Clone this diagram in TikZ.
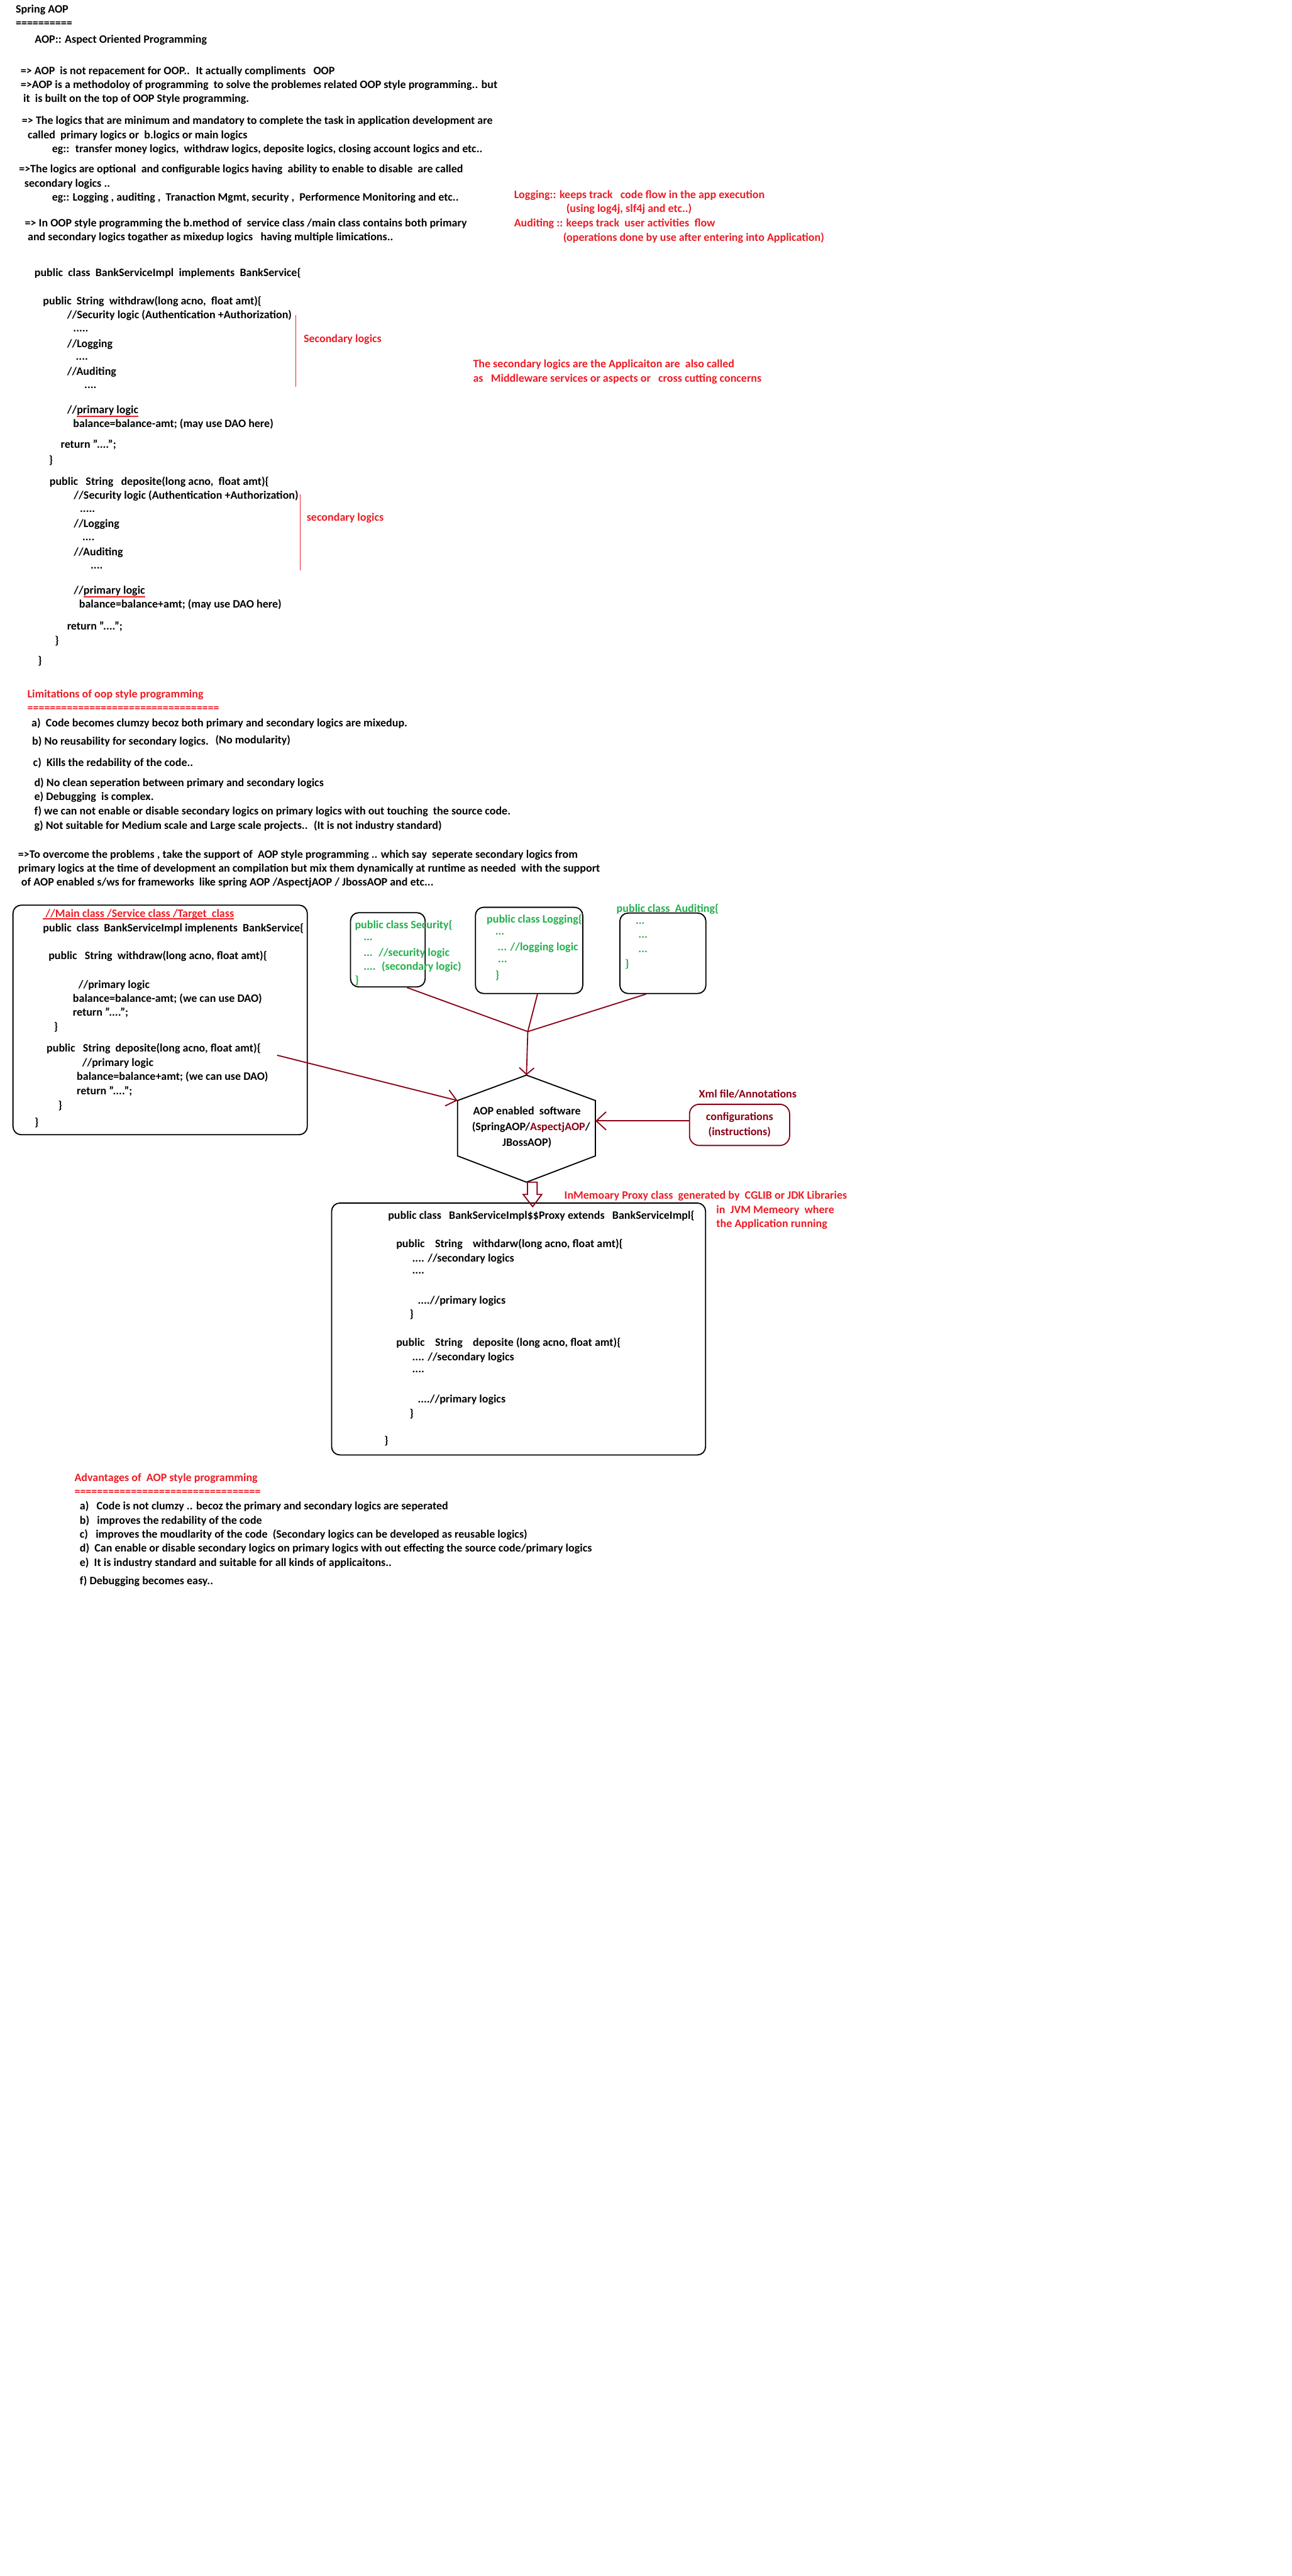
\documentclass[tikz,border=0pt]{standalone}
\usepackage{fontspec}
\setmainfont{Carlito}
\usetikzlibrary{positioning,arrows.meta}
\definecolor{pred}{HTML}{ED1C24}
\definecolor{pgreen}{HTML}{22B14C}
\definecolor{pmaroon}{HTML}{880015}
\newsavebox\ulbox
\newcommand\redul[2][2pt]{\sbox\ulbox{#2}\rlap{\color{pred}\rule[-#1]{\wd\ulbox}{0.8pt}}\usebox\ulbox}

\begin{document}
\begin{tikzpicture}[x=1pt, y=-1pt,
	tx/.style={anchor=base west, inner sep=0pt, font=\bfseries\fontsize{6.9}{8.3}\selectfont},
	ln/.style={tx, yshift=-2.2pt},
	dt/.style={tx, yshift=-0.3pt},
	rd/.style={ln, text=pred},
	gr/.style={ln, text=pgreen},
	gd/.style={dt, text=pgreen},
	bx/.style={draw, line width=.7pt, rounded corners=5pt, inner sep=0pt},
	mk/.style={pred, line width=.6pt},
	ar/.style={pmaroon, line width=.7pt, -{Straight Barb[length=4pt, width=9pt]}}]
		\fill[white] (0,0) rectangle (787,1568.7);
		\useasboundingbox (0,0) rectangle (787,1568.7);

		\node[ln] (title) at (9.4,5.5) {Spring AOP};
		\node[ln] (titlerule) at (9.4,14.1) {==========};
		\node[ln] (aopdef) at (21,24.1) {AOP:: Aspect Oriented Programming};
		\node[ln] (p1a) at (12.4,43.1) {=> AOP~ is not repacement for OOP..~ It actually compliments~~ OOP};
		\node[ln] (p1b) at (12.4,51.7) {=>AOP is a methodoloy of programming~ to solve the problemes related OOP style programming.. but};
		\node[ln] (p1c) at (14,60.2) {it~ is built on the top of OOP Style programming.};
		\node[ln] (p2a) at (13.2,73.4) {=> The logics that are minimum and mandatory to complete the task in application development are};
		\node[ln] (p2b) at (16.7,82.3) {called~ primary logics or~ b.logics or main logics};
		\node[ln] (p2c) at (31.5,90.8) {eg::~ transfer money logics,~ withdraw logics, deposite logics, closing account logics and etc..};
		\node[ln] (p3a) at (11.4,102.9) {=>The logics are optional~ and configurable logics having~ ability to enable to disable~ are called};
		\node[ln] (p3b) at (14.7,111.7) {secondary logics ..};
		\node[ln] (p3c) at (31.5,120.1) {eg:: Logging , auditing ,~ Tranaction Mgmt, security ,~ Performence Monitoring and etc..};
		\node[ln] (p4a) at (15,135.8) {=> In OOP style programming the b.method of~ service class /main class contains both primary};
		\node[ln] (p4b) at (16.7,144.4) {and secondary logics togather as mixedup logics~~ having multiple limications..};

		\node[rd] (logn) at (313,118.5) {Logging:: keeps track~~ code flow in the app execution};
		\node[rd] (logu) at (344.8,127) {(using log4j, slf4j and etc..)};
		\node[rd] (audn) at (313,135.8) {Auditing :: keeps track~ user activities~ flow};
		\node[rd] (audu) at (342.9,144.6) {(operations done by use after entering into Application)};

		\node[ln] (cls) at (20.8,166.2) {public~ class~ BankServiceImpl~ implements~ BankService\{};
		\node[ln] (wd) at (26,183.3) {public~ String~ withdraw(long acno,~ float amt)\{};
		\node[ln] (wdsec) at (40.7,191.9) {//Security logic (Authentication +Authorization)};
		\node[dt] (wddot1) at (44.4,201.8) {.....};
		\node[ln] (wdlog) at (40.7,209.4) {//Logging};
		\node[dt] (wddot2) at (46,218.9) {....};
		\node[ln] (wdaud) at (40.7,226.3) {//Auditing};
		\node[dt] (wddot3) at (51.2,236.3) {....};
		\node[ln] (wdpri) at (40.7,249.5) {//\redul[2.2pt]{primary logic}};
		\node[ln] (wdbal) at (44.4,258) {balance=balance-amt; (may use DAO here)};
		\node[ln] (wdret) at (36.8,270.5) {return "....";};
		\node[ln] (wdend) at (29.6,280.2) {\}};
		\draw[mk] (180.2,191.9) -- (180.2,235.7);
		\node[rd] (wdmark) at (184.8,206.3) {Secondary logics};
		\node[rd] (mw1) at (288,221.6) {The secondary logics are the Applicaiton are~ also called};
		\node[rd] (mw2) at (288,230.4) {as~~ Middleware services or aspects or~~ cross cutting concerns};

		\node[ln] (dp) at (30,293.1) {public~~ String~~ deposite(long acno,~ float amt)\{};
		\node[ln] (dpsec) at (44.8,301.6) {//Security logic (Authentication +Authorization)};
		\node[dt] (dpdot1) at (48.5,311.6) {.....};
		\node[ln] (dplog) at (44.8,319.1) {//Logging};
		\node[dt] (dpdot2) at (50,328.8) {....};
		\node[ln] (dpaud) at (44.8,336.2) {//Auditing};
		\node[dt] (dpdot3) at (55,346.1) {....};
		\node[ln] (dppri) at (44.8,359.4) {//\redul[2.2pt]{primary logic}};
		\node[ln] (dpbal) at (48,367.9) {balance=balance+amt; (may use DAO here)};
		\node[ln] (dpret) at (40.7,381.5) {return "....";};
		\node[ln] (dpend) at (33.3,390.3) {\}};
		\node[ln] (clsend) at (22.9,402.5) {\}};
		\draw[mk] (182.9,300.9) -- (182.9,347.3);
		\node[rd] (dpmark) at (186.6,315) {secondary logics};

		\node[rd] (lim) at (16.5,422.7) {Limitations of oop style programming};
		\node[rd] (limrule) at (16.5,431.2) {==================================};
		\node[ln] (la) at (19,440.3) {a)~ Code becomes clumzy becoz both primary and secondary logics are mixedup.};
		\node[ln] (lb) at (19.4,451.6) {b) No reusability for secondary logics.};
		\node[ln] (lbn) at (131,450.7) {(No modularity)};
		\node[ln] (lc) at (20,464.5) {c)~ Kills the redability of the code..};
		\node[ln] (ld) at (20.7,476.7) {d) No clean seperation between primary and secondary logics};
		\node[ln] (le) at (20.7,485.3) {e) Debugging~ is complex.};
		\node[ln] (lf) at (20.7,493.8) {f) we can not enable or disable secondary logics on primary logics with out touching~ the source code.};
		\node[ln] (lg) at (20.7,502.6) {g) Not suitable for Medium scale and Large scale projects..~ (It is not industry standard)};

		\node[ln] (ov1) at (10.9,520.3) {=>To overcome the problems , take the support of~ AOP style programming .. which say~ seperate secondary logics from};
		\node[ln] (ov2) at (10.9,528.7) {primary logics at the time of development an compilation but mix them dynamically at runtime as needed~ with the support};
		\node[ln] (ov3) at (12.8,537.2) {of AOP enabled s/ws for frameworks~ like spring AOP /AspectjAOP / JbossAOP and etc...};

		\node[bx, minimum width=179.3pt, minimum height=139.8pt] (main) at (97.55,621.1) {};
		\node[rd] (mt) at (26,556.5) {\redul[1.3pt]{\ //Main class /Service class /Target~ class}};
		\node[ln] (mc) at (26,565) {public~ class~ BankServiceImpl implenents~ BankService\{};
		\node[ln] (mw) at (29.4,582.2) {public~~ String~ withdraw(long acno, float amt)\{};
		\node[ln] (mwp) at (47.6,599.5) {//primary logic};
		\node[ln] (mwb) at (44.2,608) {balance=balance-amt; (we can use DAO)};
		\node[ln] (mwr) at (44.2,616.6) {return "....";};
		\node[ln] (mwe) at (32.7,625.3) {\}};
		\node[ln] (md) at (28.2,638.4) {public~~ String~ deposite(long acno, float amt)\{};
		\node[ln] (mdp) at (49.9,647.2) {//primary logic};
		\node[ln] (mdb) at (46.6,655.6) {balance=balance+amt; (we can use DAO)};
		\node[ln] (mdr) at (46.6,664.4) {return "....";};
		\node[ln] (mde) at (35.3,673) {\}};
		\node[ln] (mce) at (20.9,683.4) {\}};

		\node[bx, minimum width=45.5pt, minimum height=45.2pt] (sec) at (236.25,578.4) {};
		\node[gr] (sec1) at (216,563.3) {public class Security\{};
		\node[gd] (sec2) at (221.3,572.6) {...};
		\node[gr] (sec3) at (221.3,580.3) {...~ //security logic};
		\node[gr] (sec4) at (221.3,588.6) {....~ (secondary logic)};
		\node[gr] (sec5) at (216,597) {\}};

		\node[bx, minimum width=65.4pt, minimum height=52.5pt] (log) at (322.3,578.75) {};
		\node[gr] (log1) at (296.3,559.8) {public class Logging\{};
		\node[gd] (log2) at (301.5,569) {...};
		\node[gr] (log3) at (303,576.8) {... //logging logic};
		\node[gd] (log4) at (303.2,586) {...};
		\node[gr] (log5) at (301.5,593.8) {\}};

		\node[bx, minimum width=52.4pt, minimum height=49pt] (aud) at (403.8,580.5) {};
		\node[gr] (aud1) at (375.4,553.2) {public class~ Auditing\{};
		\node[gd] (aud2) at (387,562.6) {...};
		\node[gd] (aud3) at (388.7,571) {...};
		\node[gd] (aud4) at (388.7,579.6) {...};
		\node[gr] (aud5) at (380.6,587) {\}};

		\coordinate (htop) at (320.7,654.7);
		\coordinate (hur) at (362.7,670.2);
		\coordinate (hlr) at (362.7,703.9);
		\coordinate (hbot) at (320.7,719.9);
		\coordinate (hll) at (278.7,703.9);
		\coordinate (hul) at (278.7,670.2);
		\coordinate (hright) at (362.7,682.6);
		\draw[line width=.7pt] (htop) -- (hur) -- (hlr) -- (hbot) -- (hll) -- (hul) -- cycle;
		\node[align=center, inner sep=0pt, font=\bfseries\fontsize{6.9}{9.5}\selectfont] (aop) at (321,686.5) {AOP enabled~ software\\\hspace*{5pt}(SpringAOP/\textcolor{pmaroon}{AspectjAOP}/\\JBossAOP)};

		\node[bx, draw=pmaroon, rounded corners=6pt, minimum width=61pt, minimum height=25.1pt, align=center, text=pmaroon, font=\bfseries\fontsize{6.9}{9.1}\selectfont] (cfg) at (450.5,685) {configurations\\(instructions)};
		\node[above=3pt of cfg, xshift=5pt, inner sep=0pt, text=pmaroon, font=\bfseries\fontsize{6.9}{8.3}\selectfont] (cfg_label) {Xml file/Annotations};

		\coordinate (jn) at (321.5,628.2);
		\coordinate (mstart) at (168.8,642.6);
		\path[pmaroon, line width=.7pt] ([xshift=11.6pt]sec.south) edge (jn) ([xshift=5.1pt]log.south) edge (jn) ([xshift=-10.2pt]aud.south) edge (jn);
		\path[ar] (jn) edge (htop);
		\path[ar, -{Straight Barb[length=6pt, width=10pt]}] (mstart) edge (hul);
		\path[ar, -{Straight Barb[length=6pt, width=11pt]}] (cfg.west |- hright) edge (hright);

		\node[bx, minimum width=227.8pt, minimum height=153.4pt] (proxy) at (315.9,809.3) {};
		\draw[draw=pmaroon, line width=.7pt] ([xshift=0.6pt]hbot) -- ++(5.9,0) -- ++(0,7.5) -- ++(2.8,0) -- ++(-5.5,7.4) -- ++(-5.8,-7.4) -- ++(2.6,0) -- cycle;
		\node[rd] (gen1) at (343.6,728) {InMemoary Proxy class~ generated by~ CGLIB or JDK Libraries};
		\node[rd] (gen2) at (436.2,736.7) {in~ JVM Memeory~ where};
		\node[rd] (gen3) at (436.2,745.3) {the Application running};
		\node[ln] (px) at (236.2,740.3) {public class~~ BankServiceImpl\$\$Proxy extends~~ BankServiceImpl\{};
		\node[ln] (pw) at (241.2,757.4) {public~~~ String~~~ withdarw(long acno, float amt)\{};
		\node[ln] (pw1) at (250.9,766.2) {.... //secondary logics};
		\node[dt] (pw2) at (250.9,775.6) {....};
		\node[ln] (pw3) at (254.3,791.8) {....//primary logics};
		\node[ln] (pw4) at (249.4,800.4) {\}};
		\node[ln] (pd) at (241.2,817.7) {public~~~ String~~~ deposite (long acno, float amt)\{};
		\node[ln] (pd1) at (250.9,826.4) {.... //secondary logics};
		\node[dt] (pd2) at (250.9,835.6) {....};
		\node[ln] (pd3) at (254.3,852.2) {....//primary logics};
		\node[ln] (pd4) at (249.4,860.7) {\}};
		\node[ln] (pe) at (233.9,877.3) {\}};

		\node[rd] (adv) at (45.2,899.9) {Advantages of~ AOP style programming};
		\node[rd] (advrule) at (45.2,908.5) {=================================};
		\node[ln] (aa) at (48.4,917) {a)~~ Code is not clumzy .. becoz the primary and secondary logics are seperated};
		\node[ln] (ab) at (48.4,925.8) {b)~~ improves the redability of the code};
		\node[ln] (ac) at (48.4,934.4) {c)~~ improves the moudlarity of the code~ (Secondary logics can be developed as reusable logics)};
		\node[ln] (ad) at (48.4,942.9) {d)~ Can enable or disable secondary logics on primary logics with out effecting the source code/primary logics};
		\node[ln] (ae) at (48.4,951.5) {e)~ It is industry standard and suitable for all kinds of applicaitons..};
		\node[ln] (af) at (48.4,962.8) {f) Debugging becomes easy..};
	\end{tikzpicture}
\end{document}
